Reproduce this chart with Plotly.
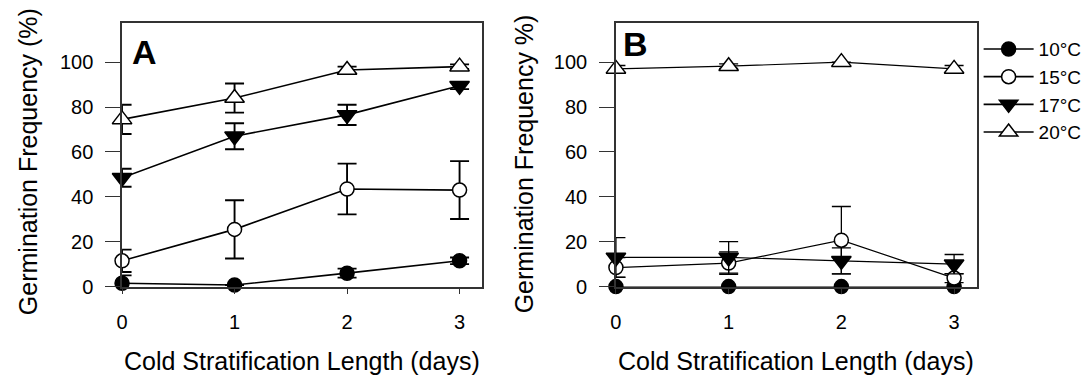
import plotly.graph_objects as go

# Cold stratification length (days)
days = [0, 1, 2, 3]
temps = ["10°C", "15°C", "17°C", "20°C"]

# Panel A: germination frequency (%) and error (±)
a_10 = [1.5, 0.7, 6.0, 11.5]
a_10_err = [3.5, None, 2.0, 1.5]
a_15 = [11.5, 25.5, 43.5, 43.0]
a_15_err = [5.0, 13.0, 11.3, 12.9]
a_17 = [48.5, 67.0, 76.5, 89.5]
a_17_err = [4.0, 5.8, 4.5, 1.5]
a_20 = [74.5, 84.0, 96.5, 98.0]
a_20_err = [6.5, 6.5, 1.5, 1.0]

# Panel B
b_10 = [0.0, 0.0, 0.0, 0.0]
b_10_err = [None, None, None, None]
b_15 = [8.5, 10.5, 20.7, 3.8]
b_15_err = [4.4, 5.0, 15.0, 2.0]
b_17 = [13.0, 13.0, 11.5, 10.0]
b_17_err = [8.8, 7.0, 5.8, 4.3]
b_20 = [97.0, 98.2, 100.0, 97.0]
b_20_err = [1.5, 1.0, None, 1.5]

y_ticks = [0, 20, 40, 60, 80, 100]
x_ticks = [0, 1, 2, 3]

FONT = "Arial, Liberation Sans, sans-serif"
INK = "#000000"
FRAME = "#333333"

styles = {
    "10°C": dict(symbol="circle", size=14, fill=INK),
    "15°C": dict(symbol="circle", size=14, fill="white"),
    "17°C": dict(symbol="triangle-down", size=17, fill=INK),
    "20°C": dict(symbol="triangle-up", size=17, fill="white"),
}

panel_a = {"10°C": (a_10, a_10_err), "15°C": (a_15, a_15_err),
           "17°C": (a_17, a_17_err), "20°C": (a_20, a_20_err)}
panel_b = {"10°C": (b_10, b_10_err), "15°C": (b_15, b_15_err),
           "17°C": (b_17, b_17_err), "20°C": (b_20, b_20_err)}

fig = go.Figure()


def add_series(values, errs, name, xaxis, yaxis, show, lw, ew):
    st = styles[name]
    fig.add_trace(go.Scatter(
        x=days, y=values, name=name, mode="lines+markers",
        xaxis=xaxis, yaxis=yaxis, showlegend=show, legendgroup=name,
        line=dict(color=INK, width=lw),
        marker=dict(symbol=st["symbol"], size=st["size"], color=st["fill"],
                    line=dict(color=INK, width=1.5)),
        error_y=dict(type="data", array=errs, symmetric=True,
                     color=INK, thickness=ew, width=9.5,
                     visible=any(e is not None for e in errs)),
        cliponaxis=False,
    ))


for t in temps:
    v, e = panel_a[t]
    add_series(v, e, t, "x", "y", True, 1.6, 1.9)
for t in temps:
    v, e = panel_b[t]
    add_series(v, e, t, "x2", "y2", False, 1.2, 1.3)

W, H = 1091, 387


def px_x(p):
    return p / W


def px_y(p):
    return 1 - p / H


axis_common = dict(
    showline=True, linecolor=FRAME, linewidth=1.5, mirror=True,
    showgrid=False, zeroline=False, ticks="outside", tickcolor=FRAME,
    tickfont=dict(family=FONT, size=20, color=INK),
)

x_common = dict(axis_common, range=[0, 3.2], tickvals=x_ticks, ticklen=6,
                tickwidth=1.3, ticklabelstandoff=11)
y_common = dict(axis_common, range=[0, 117.3], tickvals=y_ticks, ticklen=15,
                tickwidth=1.3, ticklabelstandoff=8)

fig.update_layout(
    width=W, height=H,
    margin=dict(l=0, r=0, t=0, b=0),
    paper_bgcolor="white", plot_bgcolor="white",
    xaxis=dict(x_common, domain=[px_x(116.7), px_x(478.7)], anchor="y"),
    yaxis=dict(y_common, domain=[px_y(295), px_y(24)], anchor="x"),
    xaxis2=dict(x_common, domain=[px_x(613.3), px_x(976)], anchor="y2"),
    yaxis2=dict(y_common, domain=[px_y(295), px_y(24)], anchor="x2"),
    showlegend=True,
    legend=dict(
        x=px_x(978), y=px_y(31), xanchor="left", yanchor="top",
        font=dict(family=FONT, size=19, color=INK),
        bgcolor="rgba(0,0,0,0)", itemwidth=50, tracegroupgap=0,
    ),
    font=dict(family=FONT, color=INK),
)

title_font = dict(family=FONT, size=25, color=INK)
fig.add_annotation(text="Cold Stratification Length (days)", xref="paper", yref="paper",
                   x=px_x(297.7), y=px_y(372), xanchor="center", yanchor="middle",
                   showarrow=False, font=title_font)
fig.add_annotation(text="Cold Stratification Length (days)", xref="paper", yref="paper",
                   x=px_x(794.6), y=px_y(372), xanchor="center", yanchor="middle",
                   showarrow=False, font=title_font)
fig.add_annotation(text="Germination Frequency (%)", xref="paper", yref="paper",
                   x=px_x(22), y=px_y(166), xanchor="center", yanchor="middle",
                   textangle=-90, showarrow=False, font=title_font)
fig.add_annotation(text="Germination Frequency %)", xref="paper", yref="paper",
                   x=px_x(521), y=px_y(169), xanchor="center", yanchor="middle",
                   textangle=-90, showarrow=False, font=title_font)

panel_font = dict(family=FONT, size=34, color=INK, weight="bold")
fig.add_annotation(text="<b>A</b>", xref="paper", yref="paper",
                   x=px_x(125), y=px_y(54), xanchor="left", yanchor="middle",
                   showarrow=False, font=panel_font)
fig.add_annotation(text="<b>B</b>", xref="paper", yref="paper",
                   x=px_x(618), y=px_y(45), xanchor="left", yanchor="middle",
                   showarrow=False, font=panel_font)

fig.write_html("out.html")
